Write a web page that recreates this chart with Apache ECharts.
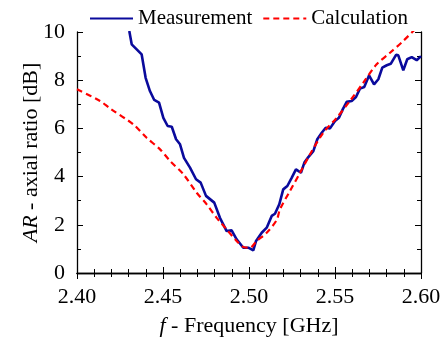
<!DOCTYPE html>
<html><head><meta charset="utf-8">
<script src="https://cdn.jsdelivr.net/npm/echarts@6/dist/echarts.min.js"></script>
<style>html,body{margin:0;padding:0;background:#fff}#c{width:445px;height:344px}</style>
</head><body><div id="c"></div>
<script>
var measFreq = [2.4304,2.4318,2.4376,2.4399,2.4424,2.4449,2.4477,2.4502,2.4527,2.4551,2.4576,2.4599,2.4622,2.4657,2.4692,2.4719,2.4750,2.4798,2.4831,2.4870,2.4899,2.4928,2.4967,2.4996,2.5025,2.5041,2.5074,2.5103,2.5132,2.5151,2.5176,2.5199,2.5223,2.5248,2.5273,2.5302,2.5322,2.5345,2.5374,2.5397,2.5423,2.5446,2.5471,2.5500,2.5523,2.5545,2.5568,2.5597,2.5622,2.5645,2.5670,2.5698,2.5727,2.5752,2.5775,2.5801,2.5824,2.5855,2.5868,2.5897,2.5920,2.5946,2.5975,2.6000];
var measAR = [10.04,9.49,9.07,8.10,7.55,7.18,7.07,6.44,6.10,6.07,5.55,5.34,4.78,4.37,3.89,3.75,3.20,2.92,2.29,1.74,1.77,1.40,1.05,1.05,0.94,1.33,1.67,1.88,2.37,2.46,2.85,3.47,3.61,3.95,4.30,4.16,4.58,4.81,5.06,5.55,5.82,6.03,6.00,6.31,6.44,6.79,7.10,7.14,7.30,7.65,7.72,8.20,7.83,8.04,8.52,8.62,8.68,9.05,9.03,8.41,8.87,8.96,8.83,9.00];
var calcFreq = [2.400,2.4134,2.4192,2.4327,2.4405,2.4483,2.4541,2.4618,2.4696,2.4754,2.4812,2.4870,2.4928,2.4967,2.5006,2.5045,2.5103,2.5161,2.5180,2.5238,2.5297,2.5355,2.5432,2.5510,2.5587,2.5665,2.5742,2.5820,2.5897,2.5955,2.6000];
var calcAR = [7.62,7.14,6.83,6.17,5.61,5.13,4.65,4.10,3.33,2.85,2.29,1.81,1.33,1.08,1.05,1.33,1.67,2.20,2.64,3.40,4.16,4.93,5.82,6.44,7.14,7.90,8.66,9.14,9.63,10.04,10.35];
var xTicks = [2.40,2.45,2.50,2.55,2.60];
var yTicks = [0,2,4,6,8,10];
var seriesNames = ['Measurement','Calculation'];

function pairs(xs, ys){ return xs.map(function(x,i){return [x, ys[i]];}); }
var font = 'Liberation Serif';
var chart = echarts.init(document.getElementById('c'), null, {renderer:'canvas'});
var axisLine = {show:true, lineStyle:{color:'#000', width:1.3}};
var tickStyle = {show:true, inside:true, length:6, lineStyle:{color:'#000', width:1}};
var nameStyle = {fontFamily:font, fontSize:22, color:'#000', rich:{i:{fontFamily:font, fontSize:22, fontStyle:'italic', color:'#000'}}};
chart.setOption({
  animation:false,
  backgroundColor:'#fff',
  legend:{
    data:seriesNames, top:3, left:84, itemWidth:43, itemHeight:12, itemGap:10,
    itemStyle:{opacity:0},
    textStyle:{fontFamily:font, fontSize:21, color:'#000'}
  },
  grid:{left:77, right:24, top:32, bottom:71},
  xAxis:[{
    type:'value', min:xTicks[0], max:xTicks[xTicks.length-1], interval:0.05, position:'bottom',
    axisLine:axisLine, splitLine:{show:false}, axisTick:tickStyle,
    minorTick:{show:true, splitNumber:5, length:4, lineStyle:{color:'#000'}},
    axisLabel:{fontFamily:font, fontSize:22, color:'#000', margin:13, formatter:function(v){return v.toFixed(2);}},
    name:'{i|f} - Frequency [GHz]', nameLocation:'middle', nameGap:42, nameMoveOverlap:false, nameTextStyle:nameStyle
  },{
    type:'value', min:xTicks[0], max:xTicks[xTicks.length-1], interval:0.05, position:'top',
    axisLine:axisLine, splitLine:{show:false}, axisLabel:{show:false}, axisTick:tickStyle,
    minorTick:{show:true, splitNumber:5, length:4, lineStyle:{color:'#000'}}
  }],
  yAxis:[{
    type:'value', min:yTicks[0], max:yTicks[yTicks.length-1], interval:2, position:'left',
    axisLine:axisLine, splitLine:{show:false}, axisTick:tickStyle,
    minorTick:{show:true, splitNumber:2, length:4, lineStyle:{color:'#000'}},
    axisLabel:{fontFamily:font, fontSize:22, color:'#000', margin:12},
    name:'{i|AR} - axial ratio [dB]', nameLocation:'middle', nameGap:35, nameMoveOverlap:false, nameTextStyle:nameStyle
  },{
    type:'value', min:yTicks[0], max:yTicks[yTicks.length-1], interval:2, position:'right',
    axisLine:axisLine, splitLine:{show:false}, axisLabel:{show:false}, axisTick:tickStyle,
    minorTick:{show:true, splitNumber:2, length:4, lineStyle:{color:'#000'}}
  }],
  series:[{
    name:seriesNames[0], type:'line', showSymbol:false, symbol:'none', clip:true,
    data:pairs(measFreq, measAR),
    lineStyle:{color:'#0a0a9c', width:2.6}, itemStyle:{color:'#0a0a9c'}
  },{
    name:seriesNames[1], type:'line', showSymbol:false, symbol:'none', clip:true,
    data:pairs(calcFreq, calcAR), smooth:0.3,
    lineStyle:{color:'#ff0000', width:2.2, type:[6,4]}, itemStyle:{color:'#ff0000'}
  }]
});
</script></body></html>
